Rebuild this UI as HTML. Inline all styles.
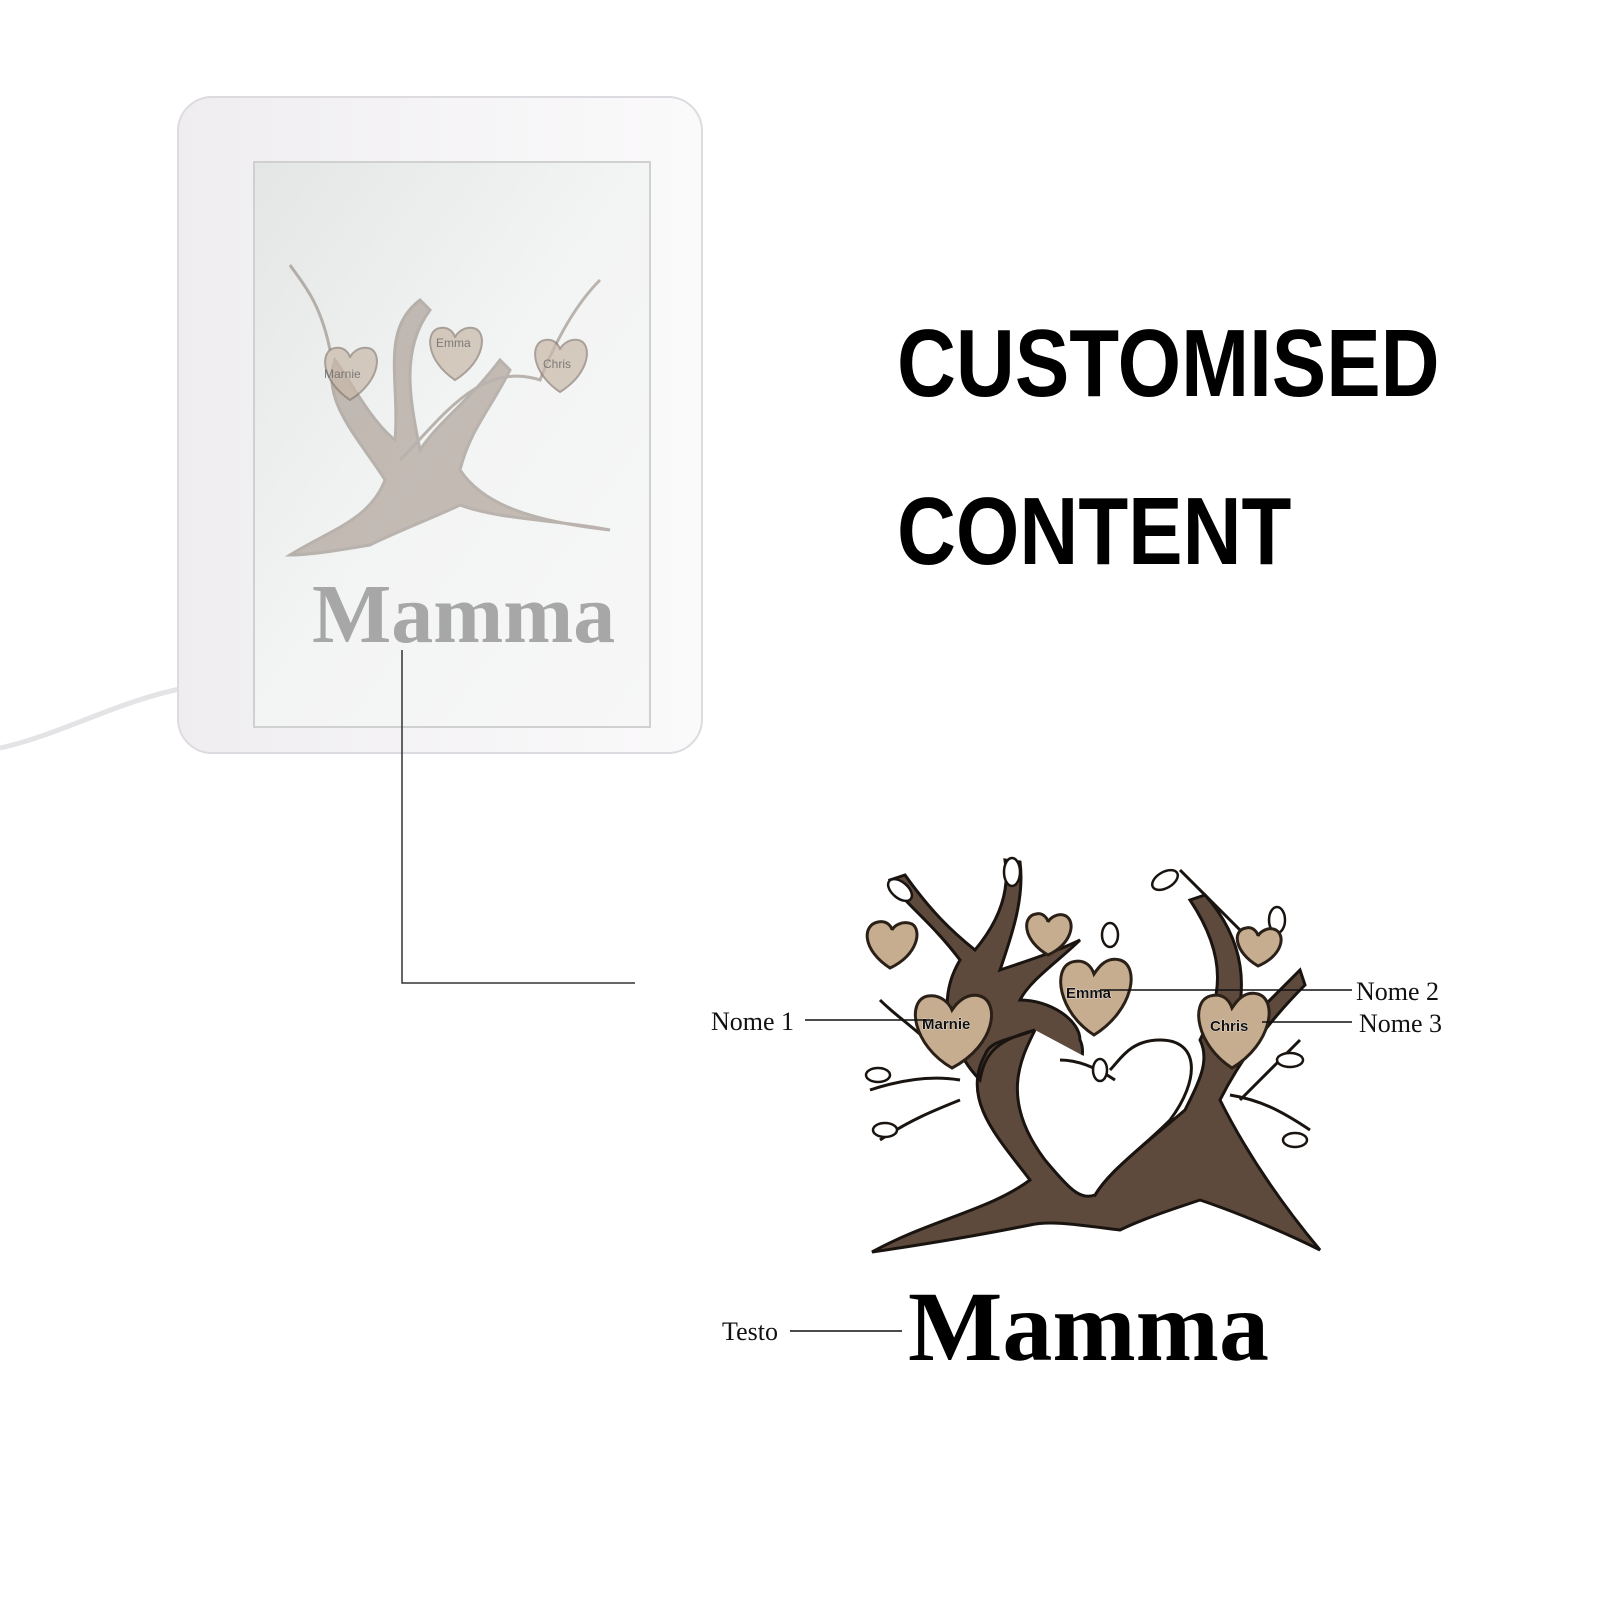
<!DOCTYPE html>
<html><head><meta charset="utf-8"><style>
html,body{margin:0;padding:0;background:#fff;}
body{width:1600px;height:1600px;position:relative;overflow:hidden;font-family:"Liberation Sans",sans-serif;}
.big{position:absolute;left:897px;font-weight:bold;font-size:96px;color:#000;line-height:1;transform:scaleX(0.85);transform-origin:0 0;white-space:nowrap;}
</style></head><body>
<svg width="1600" height="1600" style="position:absolute;left:0;top:0">
<defs>
<linearGradient id="pan" x1="0" y1="0" x2="1" y2="1"><stop offset="0" stop-color="#e4e6e6"/><stop offset="0.5" stop-color="#f3f4f4"/><stop offset="1" stop-color="#f7f7f7"/></linearGradient>
<linearGradient id="fr" x1="0" y1="0" x2="1" y2="0"><stop offset="0" stop-color="#efedf0"/><stop offset="1" stop-color="#fbfafb"/></linearGradient>
</defs>
<path d="M0 748 C60 735 120 700 185 688" stroke="#e4e4e6" stroke-width="5" fill="none"/>
<rect x="178" y="97" width="524" height="656" rx="34" fill="url(#fr)" stroke="#dedbe0" stroke-width="2"/>
<rect x="254" y="162" width="396" height="565" fill="url(#pan)" stroke="#d0d0d2" stroke-width="2"/>
<g opacity="0.55" fill="#9c8c80" stroke="#8a7d74" stroke-width="3">
<path d="M290 555 C330 530 370 520 385 480 C360 440 320 400 335 360 C350 380 370 420 395 440 C400 380 380 330 420 300 L430 310 C400 350 410 400 420 450 C440 420 470 400 500 360 L510 370 C490 410 470 430 460 470 C480 500 520 520 610 530 C560 520 500 520 460 505 C440 515 400 530 370 545 C340 550 310 555 290 555 Z"/>
<path d="M400 460 C440 420 480 360 540 380 C560 330 580 300 600 280" fill="none"/>
<path d="M330 350 C320 300 300 280 290 265" fill="none"/>
</g>
<g fill="#c9b8a8" stroke="#8a7d74" stroke-width="2" opacity="0.7">
<path d="M350 400 C320 380 320 350 335 348 C345 346 350 355 350 358 C350 355 358 346 368 348 C382 350 382 380 350 400 Z"/>
<path d="M455 380 C425 360 425 330 440 328 C450 326 455 335 455 338 C455 335 463 326 473 328 C487 330 487 360 455 380 Z"/>
<path d="M560 392 C530 372 530 342 545 340 C555 338 560 347 560 350 C560 347 568 338 578 340 C592 342 592 372 560 392 Z"/>
</g>
<g font-family="Liberation Sans" font-size="12" fill="#666" opacity="0.8">
<text x="324" y="378">Marnie</text><text x="436" y="347">Emma</text><text x="543" y="368">Chris</text>
</g>
<text x="312" y="642" font-family="Liberation Serif" font-weight="bold" font-size="84" fill="#a7a7a7">Mamma</text>
<path d="M402 650 V983 H635" stroke="#333" stroke-width="1.5" fill="none"/>
<g fill="#5e4a3c" stroke="#1a1410" stroke-width="3">
<path d="M872 1252 C930 1220 990 1210 1030 1180 C1000 1140 960 1100 985 1055 C990 1040 1010 1040 1035 1030 C1000 1040 985 1050 980 1080 C960 1060 930 1010 960 960 C930 920 900 900 890 880 L905 875 C930 910 950 930 975 950 C1000 920 1010 890 1005 860 L1020 862 C1025 900 1010 940 1000 970 C1030 960 1060 950 1080 940 C1060 960 1030 980 1020 1000 C1050 1000 1080 1020 1080 1040 C1090 1060 1070 1090 1040 1130 C1060 1160 1080 1180 1095 1195 C1110 1170 1150 1140 1185 1110 C1200 1080 1210 1060 1200 1040 C1220 1000 1230 960 1190 900 L1205 895 C1245 940 1250 990 1230 1040 C1260 1010 1280 990 1300 970 L1305 985 C1270 1020 1240 1060 1220 1100 C1240 1140 1270 1190 1320 1250 C1280 1230 1230 1210 1200 1200 C1170 1210 1140 1220 1120 1230 C1080 1225 1050 1220 1030 1225 C980 1235 920 1245 872 1252 Z"/>
<path d="M1035 1030 C1020 1060 1000 1100 1045 1160 C1070 1190 1080 1200 1095 1195 C1110 1170 1140 1150 1170 1120 C1200 1080 1200 1040 1160 1040 C1130 1040 1120 1060 1110 1070" fill="#fff"/>
</g>
<g fill="none" stroke="#1a1410" stroke-width="3">
<path d="M880 1000 C900 1020 920 1030 945 1060"/><path d="M870 1090 C900 1080 930 1075 960 1080"/><path d="M880 1140 C910 1120 935 1110 960 1100"/>
<path d="M1300 1040 C1280 1060 1260 1080 1240 1100"/><path d="M1310 1130 C1280 1110 1260 1100 1230 1095"/>
<path d="M1060 1060 C1080 1060 1100 1070 1115 1080"/><path d="M1180 870 C1200 890 1220 910 1240 930"/>
</g>
<g fill="#fff" stroke="#1a1410" stroke-width="2.5">
<ellipse cx="900" cy="890" rx="14" ry="8" transform="rotate(40 900 890)"/><ellipse cx="1012" cy="872" rx="8" ry="14"/>
<ellipse cx="1165" cy="880" rx="14" ry="8" transform="rotate(-30 1165 880)"/><ellipse cx="1277" cy="920" rx="8" ry="13"/>
<ellipse cx="1290" cy="1060" rx="13" ry="7"/><ellipse cx="1295" cy="1140" rx="12" ry="7"/><ellipse cx="885" cy="1130" rx="12" ry="7"/>
<ellipse cx="878" cy="1075" rx="12" ry="7"/><ellipse cx="1110" cy="935" rx="8" ry="12"/><ellipse cx="1100" cy="1070" rx="7" ry="11"/>
</g>
<g fill="#c7ad90" stroke="#2b2018" stroke-width="3">
<path d="M890 968 C862 950 862 925 878 922 C888 920 892 928 892 930 C894 926 902 920 912 924 C922 930 918 955 890 968 Z"/>
<path d="M1048 955 C1022 940 1022 916 1036 914 C1044 912 1048 920 1048 922 C1050 918 1058 912 1066 916 C1076 922 1072 944 1048 955 Z"/>
<path d="M1258 966 C1234 952 1232 930 1246 928 C1254 926 1258 934 1258 936 C1260 932 1268 926 1276 930 C1286 936 1282 956 1258 966 Z"/>
<path d="M952 1068 C912 1045 906 1000 928 996 C942 994 950 1005 952 1010 C956 1004 966 992 980 996 C1000 1002 996 1045 952 1068 Z"/>
<path d="M1094 1035 C1058 1012 1052 968 1072 962 C1086 958 1092 968 1094 974 C1098 968 1106 956 1120 960 C1140 966 1134 1010 1094 1035 Z"/>
<path d="M1232 1068 C1196 1045 1190 1002 1210 996 C1224 992 1230 1002 1232 1008 C1236 1002 1244 990 1258 994 C1278 1000 1272 1044 1232 1068 Z"/>
</g>
<g font-family="Liberation Sans" font-weight="bold" font-size="15" fill="#111" stroke="#fff" stroke-width="0.6" paint-order="stroke">
<text x="922" y="1029">Marnie</text><text x="1066" y="998">Emma</text><text x="1210" y="1031">Chris</text>
</g>
<g stroke="#111" stroke-width="1.5">
<line x1="805" y1="1020" x2="930" y2="1020"/><line x1="1100" y1="990" x2="1352" y2="990"/><line x1="1262" y1="1022" x2="1352" y2="1022"/>
<line x1="790" y1="1331" x2="902" y2="1331"/>
</g>
<g font-family="Liberation Serif" font-size="26" fill="#111">
<text x="711" y="1030">Nome 1</text><text x="1356" y="1000">Nome 2</text><text x="1359" y="1032">Nome 3</text><text x="722" y="1340">Testo</text>
</g>
<text x="908" y="1360" font-family="Liberation Serif" font-weight="bold" font-size="100" fill="#000">Mamma</text>
</svg>
<div class="big" style="top:316px">CUSTOMISED</div>
<div class="big" style="top:484px">CONTENT</div>
</body></html>
